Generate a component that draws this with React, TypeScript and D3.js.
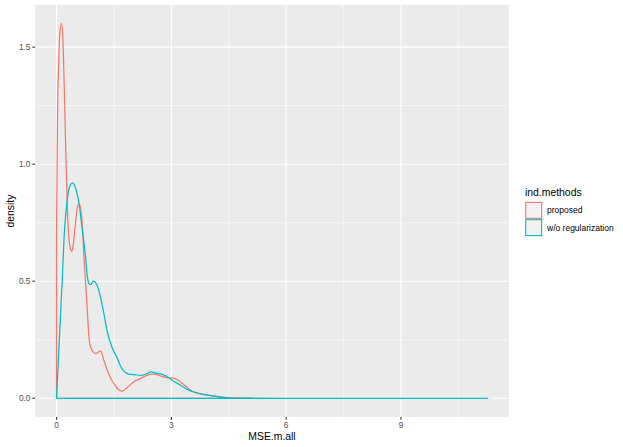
import React from "react";
import * as d3 from "d3";

const groups = ["proposed", "w/o regularization"];
const colors = ["#F8766D", "#00BFC4"];

const proposedX = [0, 0.026, 0.06, 0.09, 0.13, 0.17, 0.216, 0.25, 0.286, 0.33, 0.37, 0.40, 0.44, 0.49, 0.55, 0.59, 0.63, 0.675, 0.717, 0.761, 0.805, 0.847, 0.89, 0.935, 1.02, 1.09, 1.15, 1.24, 1.366, 1.45, 1.54, 1.62, 1.71, 1.84, 2.02, 2.19, 2.36, 2.54, 2.71, 2.88, 3.05, 3.23, 3.40, 3.57, 3.83, 4.09, 4.44, 4.9, 5.1];
const proposedY = [0.7, 1.22, 1.45, 1.57, 1.60, 1.52, 1.23, 1.0, 0.80, 0.67, 0.635, 0.627, 0.66, 0.74, 0.82, 0.83, 0.81, 0.74, 0.60, 0.49, 0.37, 0.26, 0.22, 0.203, 0.191, 0.197, 0.203, 0.16, 0.103, 0.075, 0.053, 0.036, 0.031, 0.045, 0.071, 0.084, 0.098, 0.103, 0.096, 0.088, 0.086, 0.071, 0.048, 0.028, 0.017, 0.01, 0.003, 0.001, 0.0005];

const woregX = [0, 0.078, 0.156, 0.197, 0.268, 0.327, 0.415, 0.50, 0.587, 0.675, 0.761, 0.805, 0.85, 0.89, 0.96, 1.065, 1.15, 1.24, 1.32, 1.45, 1.58, 1.67, 1.76, 1.89, 2.06, 2.23, 2.36, 2.47, 2.62, 2.75, 2.88, 3.05, 3.23, 3.40, 3.57, 3.83, 4.09, 4.35, 4.6, 5.0, 6.0, 11.26];
const woregY = [0, 0.27, 0.53, 0.688, 0.831, 0.896, 0.92, 0.896, 0.831, 0.717, 0.60, 0.52, 0.49, 0.485, 0.50, 0.481, 0.431, 0.36, 0.288, 0.217, 0.174, 0.138, 0.116, 0.103, 0.10, 0.098, 0.105, 0.113, 0.107, 0.103, 0.093, 0.074, 0.057, 0.039, 0.028, 0.017, 0.01, 0.004, 0.001, 0.0003, 0, 0];

const xTicks = [0, 3, 6, 9];
const xMinor = [1.5, 4.5, 7.5, 10.5];
const yTicks = [0, 0.5, 1.0, 1.5];
const yTickLabels = ["0.0", "0.5", "1.0", "1.5"];
const yMinor = [0.25, 0.75, 1.25];

const W = 623, H = 447;
const panel = { left: 35, right: 509, top: 5, bottom: 417 };
const font = "'Liberation Sans', Arial, Helvetica, sans-serif";

export default function App() {
  const xDomainMax = 11.26;
  const xPad = xDomainMax * 0.05;
  const x = d3.scaleLinear().domain([-xPad, xDomainMax + xPad]).range([panel.left, panel.right]);
  const yMax = 1.6;
  const y = d3.scaleLinear().domain([-yMax * 0.05, yMax * 1.05]).range([panel.bottom, panel.top]);

  const series = [
    proposedX.map((v, i) => [v, proposedY[i]] as [number, number]),
    woregX.map((v, i) => [v, woregY[i]] as [number, number]),
  ];
  const area = d3.area<[number, number]>()
    .x((d) => x(d[0]))
    .y0(y(0))
    .y1((d) => y(d[1]))
    .curve(d3.curveMonotoneX);

  const tickColor = "#4D4D4D";
  return (
    <svg width={W} height={H} style={{ position: "absolute", left: 0, top: 0 }} fontFamily={font}>
      <rect x={0} y={0} width={W} height={H} fill="#FFFFFF" />
      <rect x={panel.left} y={panel.top} width={panel.right - panel.left} height={panel.bottom - panel.top} fill="#EBEBEB" />
      {xMinor.map((t) => (
        <line key={"xm" + t} x1={x(t)} x2={x(t)} y1={panel.top} y2={panel.bottom} stroke="#FFFFFF" strokeWidth={0.55} />
      ))}
      {yMinor.map((t) => (
        <line key={"ym" + t} x1={panel.left} x2={panel.right} y1={y(t)} y2={y(t)} stroke="#FFFFFF" strokeWidth={0.55} />
      ))}
      {xTicks.map((t) => (
        <line key={"xg" + t} x1={x(t)} x2={x(t)} y1={panel.top} y2={panel.bottom} stroke="#FFFFFF" strokeWidth={1.1} />
      ))}
      {yTicks.map((t) => (
        <line key={"yg" + t} x1={panel.left} x2={panel.right} y1={y(t)} y2={y(t)} stroke="#FFFFFF" strokeWidth={1.1} />
      ))}
      {series.map((s, i) => (
        <path key={"s" + i} d={area(s) || ""} fill="none" stroke={colors[i]} strokeWidth={1.25} strokeLinejoin="round" />
      ))}
      {xTicks.map((t) => (
        <g key={"xt" + t}>
          <line x1={x(t)} x2={x(t)} y1={panel.bottom} y2={panel.bottom + 2.7} stroke="#333333" strokeWidth={1.1} />
          <text x={x(t)} y={panel.bottom + 10.5} textAnchor="middle" fontSize={8.3} fill={tickColor}>{t}</text>
        </g>
      ))}
      {yTicks.map((t, i) => (
        <g key={"yt" + t}>
          <line x1={panel.left - 2.7} x2={panel.left} y1={y(t)} y2={y(t)} stroke="#333333" strokeWidth={1.1} />
          <text x={panel.left - 4.5} y={y(t) + 3} textAnchor="end" fontSize={8.3} fill={tickColor}>{yTickLabels[i]}</text>
        </g>
      ))}
      <text x={(panel.left + panel.right) / 2} y={440} textAnchor="middle" fontSize={10.4} fill="#000000">MSE.m.all</text>
      <text transform={`translate(13.5, ${(panel.top + panel.bottom) / 2}) rotate(-90)`} textAnchor="middle" fontSize={10.4} fill="#000000">density</text>
      <g>
        <text x={525} y={196} fontSize={10.4} fill="#000000">ind.methods</text>
        {groups.map((g, i) => (
          <g key={g}>
            <rect x={525} y={201.7 + i * 17.3} width={17.3} height={17.3} fill="#F2F2F2" />
            <rect x={525.7} y={202.4 + i * 17.3} width={15.9} height={15.9} fill="none" stroke={colors[i]} strokeWidth={1.1} />
            <text x={547} y={201.7 + i * 17.3 + 11.6} fontSize={8.5} fill="#000000">{g}</text>
          </g>
        ))}
      </g>
    </svg>
  );
}
